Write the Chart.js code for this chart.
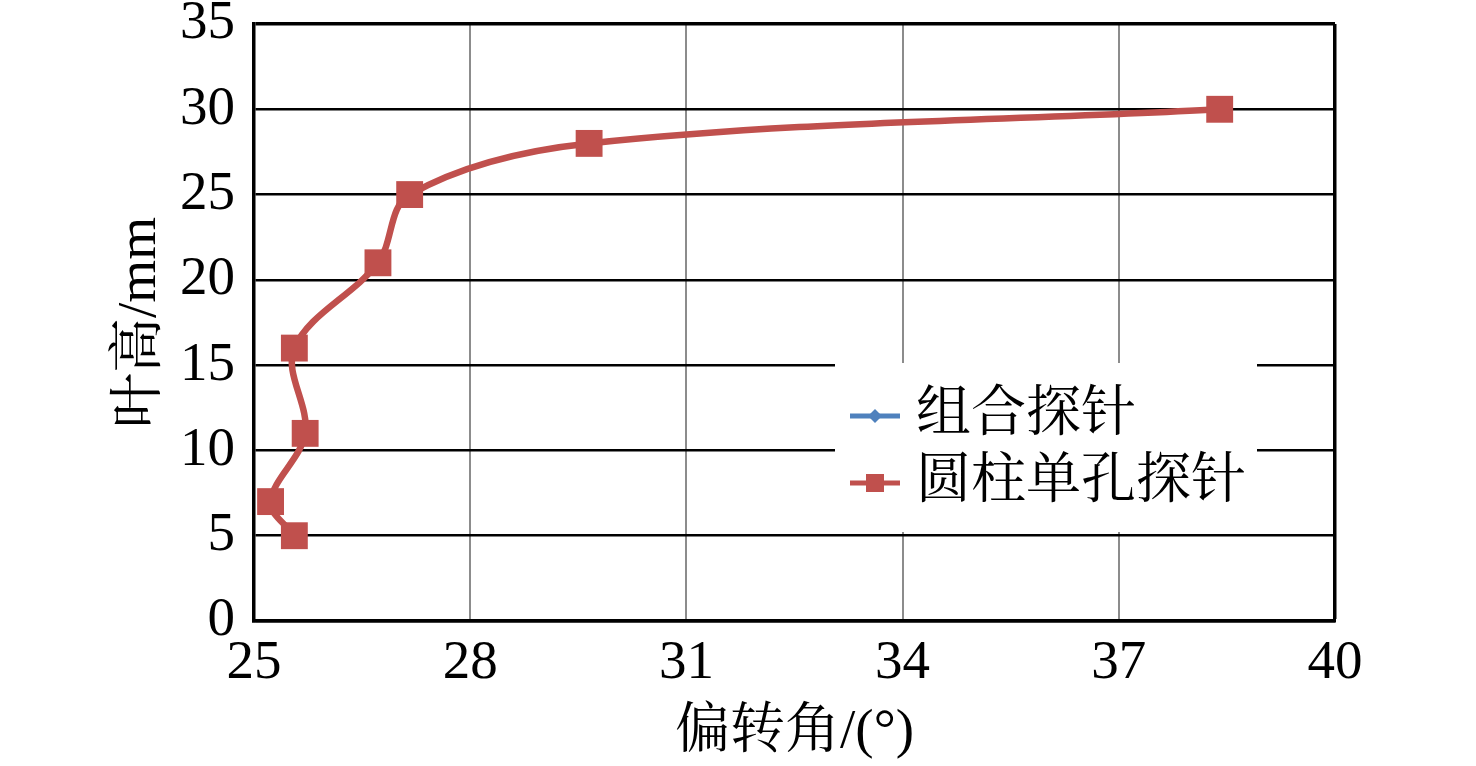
<!DOCTYPE html>
<html><head><meta charset="utf-8">
<script src="https://cdn.jsdelivr.net/npm/chart.js@4.4.0/dist/chart.umd.min.js"></script>
<style>html,body{margin:0;padding:0;background:#fff;overflow:hidden}#wrap{width:1476px;height:766px;position:relative}</style>
</head><body><div id="wrap"><canvas id="c" width="1476" height="766"></canvas></div>
<script>
// ---- data ----
const bladeHeight = [5, 7, 11, 16, 21, 25, 28, 30];            // 叶高/mm
const angleCombined = [25.56, 25.23, 25.71, 25.56, 26.72, 27.16, 29.65, 38.40]; // 组合探针 (hidden under red)
const angleCylinder = [25.56, 25.23, 25.71, 25.56, 26.72, 27.16, 29.65, 38.40]; // 圆柱单孔探针
const xTicks = [25, 28, 31, 34, 37, 40];
const yTicks = [0, 5, 10, 15, 20, 25, 30, 35];
const seriesNames = ['组合探针', '圆柱单孔探针'];
const xTitle = '偏转角/(°)';
const yTitle = '叶高/mm';

const FONT = "'Liberation Serif', 'Noto Serif CJK SC', 'Noto Sans CJK SC', serif";
Chart.defaults.font.family = FONT;
Chart.defaults.color = '#000';

const toPts = (xs) => xs.map((x, i) => ({x: x, y: bladeHeight[i]}));

const legendPlugin = {
  id: 'boxLegend',
  afterDraw(chart) {
    const ctx = chart.ctx;
    ctx.save();
    ctx.fillStyle = '#fff';
    ctx.fillRect(835, 363, 422, 169);
    const rows = [416, 483];
    chart.data.datasets.forEach((ds, i) => {
      const y = rows[i];
      ctx.strokeStyle = ds.borderColor;
      ctx.lineWidth = 5;
      ctx.beginPath(); ctx.moveTo(850, y); ctx.lineTo(900, y); ctx.stroke();
      ctx.fillStyle = ds.backgroundColor;
      if (ds.pointStyle === 'rect') {
        ctx.fillRect(875 - 9, y - 9, 18, 18);
      } else {
        ctx.beginPath();
        ctx.moveTo(875, y - 7); ctx.lineTo(882, y); ctx.lineTo(875, y + 7); ctx.lineTo(868, y);
        ctx.closePath(); ctx.fill();
      }
      ctx.fillStyle = '#000';
      ctx.font = '55px ' + FONT;
      ctx.textAlign = 'left';
      ctx.textBaseline = 'middle';
      ctx.fillText(ds.label, 916, y);
    });
    ctx.restore();
  }
};

new Chart(document.getElementById('c'), {
  type: 'scatter',
  data: {
    datasets: [
      {
        label: seriesNames[0], data: toPts(angleCombined), showLine: true, tension: 0.35,
        borderColor: '#4F81BD', backgroundColor: '#4F81BD', borderWidth: 4,
        pointStyle: 'rectRot', pointRadius: 8, pointBorderWidth: 0, order: 2
      },
      {
        label: seriesNames[1], data: toPts(angleCylinder), showLine: true, tension: 0.35,
        borderColor: '#C0504D', backgroundColor: '#C0504D', borderWidth: 6.5,
        pointStyle: 'rect', pointRadius: 19, pointBorderWidth: 0, order: 1
      }
    ]
  },
  options: {
    responsive: false, animation: false, devicePixelRatio: 1,
    layout: {padding: {left: 0, top: 24, right: 141, bottom: 0}},
    plugins: {legend: {display: false}, tooltip: {enabled: false}},
    scales: {
      x: {
        type: 'linear', position: 'bottom', min: 25, max: 40,
        afterBuildTicks: (s) => { s.ticks = xTicks.map(v => ({value: v})); },
        afterFit: (s) => { s.height = 145; s.paddingLeft = 0; s.paddingRight = 0; },
        ticks: {font: {size: 55}, padding: 10, color: '#000', maxRotation: 0, autoSkip: false},
        grid: {
          drawTicks: false,
          color: (c) => (c.tick && c.tick.value === 40) ? '#000' : '#8c8c8c',
          lineWidth: (c) => (c.tick && c.tick.value === 40) ? 3.5 : 2
        },
        border: {display: true, color: '#000', width: 3.5},
        title: {display: true, text: xTitle, font: {size: 55}, color: '#000', padding: {top: 0, bottom: 0}}
      },
      y: {
        type: 'linear', position: 'left', min: 0, max: 35,
        afterBuildTicks: (s) => { s.ticks = yTicks.map(v => ({value: v})); },
        afterFit: (s) => { s.width = 254; s.paddingTop = 0; s.paddingBottom = 0; },
        ticks: {font: {size: 55}, padding: 19, color: '#000', autoSkip: false},
        grid: {
          drawTicks: false, color: '#000',
          lineWidth: (c) => (c.tick && (c.tick.value === 35 || c.tick.value === 0)) ? 3.5 : 2.5
        },
        border: {display: true, color: '#000', width: 3.5},
        title: {display: true, text: yTitle, font: {size: 55}, color: '#000', padding: {top: 108, bottom: 0}}
      }
    }
  },
  plugins: [legendPlugin]
});
</script></body></html>
